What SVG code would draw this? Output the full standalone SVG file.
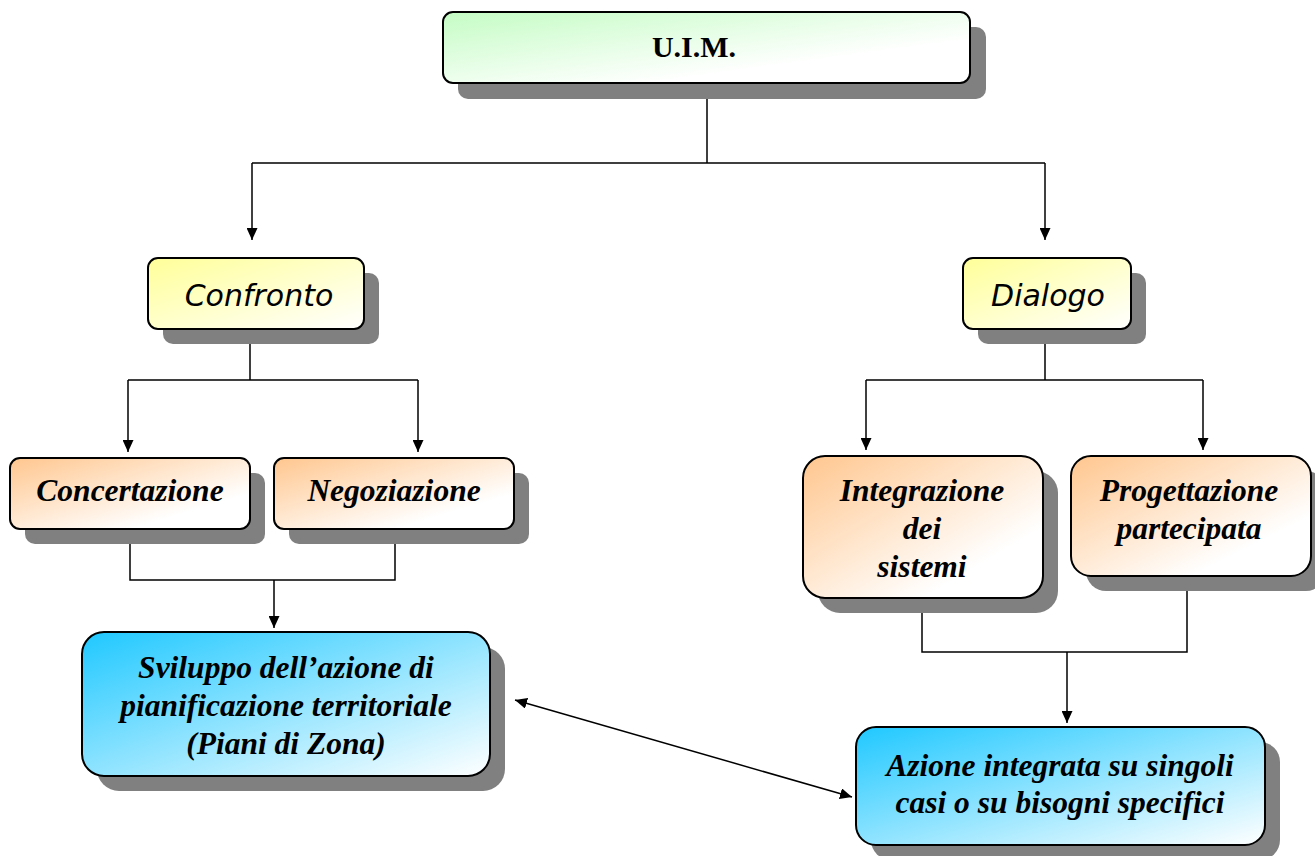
<svg xmlns="http://www.w3.org/2000/svg" width="1315" height="856" viewBox="0 0 1315 856">
<style>
.sh{fill:#808080}
.bx{stroke:#000;stroke-width:2}
.t{font-family:"Liberation Serif",serif;font-weight:bold;font-style:italic;font-size:31.5px;text-anchor:middle;fill:#000}
.c{font-family:"Comic Sans MS","DejaVu Sans",sans-serif;font-style:oblique;font-size:30px;text-anchor:middle;fill:#000}
.ln{stroke:#000;stroke-width:1.5;fill:none}
</style>
<defs>
<linearGradient id="gG" x1="0" y1="0" x2="1" y2="1"><stop offset="0" stop-color="#c4fcc4"/><stop offset="0.7" stop-color="#fff"/></linearGradient>
<linearGradient id="gY" x1="0" y1="0" x2="1" y2="1"><stop offset="0" stop-color="#ffff99"/><stop offset="1" stop-color="#fff"/></linearGradient>
<linearGradient id="gO" x1="0" y1="0" x2="1" y2="1"><stop offset="0" stop-color="#ffc68e"/><stop offset="0.75" stop-color="#fff"/></linearGradient>
<linearGradient id="gB" x1="0" y1="0" x2="1" y2="1"><stop offset="0" stop-color="#1fc8ff"/><stop offset="1" stop-color="#fff"/></linearGradient>
<marker id="ah" viewBox="0 0 10 10" refX="10" refY="5" markerWidth="12" markerHeight="11" markerUnits="userSpaceOnUse" orient="auto-start-reverse" preserveAspectRatio="none"><path d="M0,0 L10,5 L0,10 z" fill="#000"/></marker>
</defs>
<g id="connectors">
<path class="ln" d="M707,83 V163 M252,163 H1045"/>
<path class="ln" d="M252,163 V240" marker-end="url(#ah)"/>
<path class="ln" d="M1045,163 V240" marker-end="url(#ah)"/>
<path class="ln" d="M250,329 V380 M128,380 H418"/>
<path class="ln" d="M128,380 V452" marker-end="url(#ah)"/>
<path class="ln" d="M418,380 V452" marker-end="url(#ah)"/>
<path class="ln" d="M1045,329 V380 M866,380 H1203"/>
<path class="ln" d="M866,380 V450" marker-end="url(#ah)"/>
<path class="ln" d="M1203,380 V450" marker-end="url(#ah)"/>
<path class="ln" d="M130,529 V580 H395 V529"/>
<path class="ln" d="M274,580 V628" marker-end="url(#ah)"/>
<path class="ln" d="M922,598 V652 H1187 V576"/>
<path class="ln" d="M1067,652 V723" marker-end="url(#ah)"/>
<path class="ln" d="M515,700 L852,797" marker-start="url(#ah)" marker-end="url(#ah)"/>
</g>
<g id="uim">
<rect class="sh" x="458" y="27" width="528" height="72" rx="10"/>
<rect class="bx" x="443" y="12" width="527" height="71" rx="10" fill="url(#gG)"/>
<text x="694" y="57" font-family="Liberation Serif,serif" font-weight="bold" font-size="30" text-anchor="middle">U.I.M.</text>
</g>
<g id="confronto">
<rect class="sh" x="163" y="273" width="216" height="71" rx="10"/>
<rect class="bx" x="148" y="258" width="216" height="71" rx="10" fill="url(#gY)"/>
<text class="c" x="259" y="306">Confronto</text>
</g>
<g id="dialogo">
<rect class="sh" x="978" y="273" width="168" height="71" rx="10"/>
<rect class="bx" x="963" y="258" width="168" height="71" rx="10" fill="url(#gY)"/>
<text class="c" x="1048" y="306">Dialogo</text>
</g>
<g id="concertazione">
<rect class="sh" x="25" y="473" width="240" height="71" rx="10"/>
<rect class="bx" x="10" y="458" width="240" height="71" rx="10" fill="url(#gO)"/>
<text class="t" x="130" y="501">Concertazione</text>
</g>
<g id="negoziazione">
<rect class="sh" x="289" y="473" width="240" height="71" rx="10"/>
<rect class="bx" x="274" y="458" width="240" height="71" rx="10" fill="url(#gO)"/>
<text class="t" x="394" y="501">Negoziazione</text>
</g>
<g id="integrazione">
<rect class="sh" x="818" y="471" width="240" height="142" rx="22"/>
<rect class="bx" x="803" y="456" width="240" height="142" rx="22" fill="url(#gO)"/>
<text class="t" x="922" y="501">Integrazione</text>
<text class="t" x="922" y="539">dei</text>
<text class="t" x="922" y="577">sistemi</text>
</g>
<g id="progettazione">
<rect class="sh" x="1086" y="471" width="240" height="120" rx="20"/>
<rect class="bx" x="1071" y="456" width="240" height="120" rx="20" fill="url(#gO)"/>
<text class="t" x="1189" y="501">Progettazione</text>
<text class="t" x="1189" y="539">partecipata</text>
</g>
<g id="sviluppo">
<rect class="sh" x="97" y="647" width="408" height="144" rx="22"/>
<rect class="bx" x="82" y="632" width="408" height="144" rx="22" fill="url(#gB)"/>
<text class="t" x="286" y="678">Sviluppo dell’azione di</text>
<text class="t" x="286" y="716">pianificazione territoriale</text>
<text class="t" x="286" y="754">(Piani di Zona)</text>
</g>
<g id="azione">
<rect class="sh" x="871" y="742" width="409" height="118" rx="20"/>
<rect class="bx" x="856" y="727" width="409" height="118" rx="20" fill="url(#gB)"/>
<text class="t" x="1060" y="776">Azione integrata su singoli</text>
<text class="t" x="1060" y="813">casi o su bisogni specifici</text>
</g>
</svg>
